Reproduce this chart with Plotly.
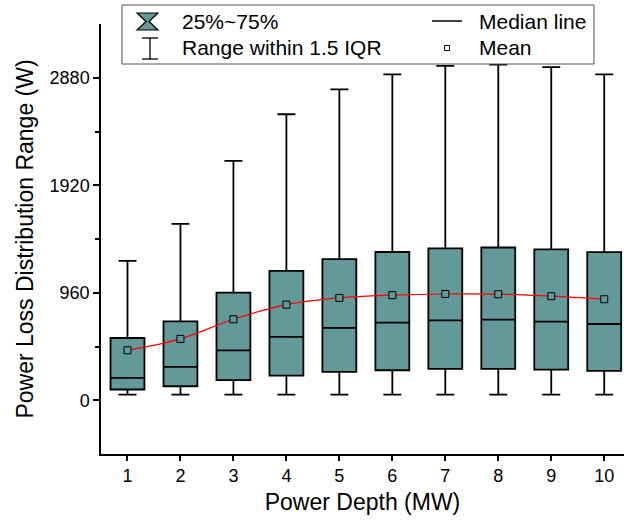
import plotly.graph_objects as go

# ---- data ----
depth = [1, 2, 3, 4, 5, 6, 7, 8, 9, 10]
q1 = [96, 125, 179, 220, 253, 268, 280, 280, 274, 262]
median = [199, 298, 446, 566, 646, 694, 714, 720, 703, 681]
q3 = [556, 705, 962, 1155, 1260, 1324, 1357, 1364, 1348, 1322]
lower_fence = [51, 51, 51, 51, 51, 51, 51, 51, 51, 51]
upper_fence = [1244, 1575, 2137, 2554, 2777, 2911, 2986, 2998, 2974, 2911]
mean = [446, 548, 723, 854, 914, 938, 949, 947, 929, 902]
y_ticks = [0, 960, 1920, 2880]

TEAL = "#639998"
FONT = "Liberation Sans, Arial, sans-serif"

W, H = 624, 520
ML, MR, MT, MB = 101, 0, 24, 66
PW, PH = W - ML - MR, H - MT - MB


def px(x):
    return (x - ML) / PW


def py(y):
    return (H - MB - y) / PH


fig = go.Figure()
fig.add_trace(go.Box(
    x=depth, q1=q1, median=median, q3=q3,
    lowerfence=lower_fence, upperfence=upper_fence,
    width=0.64, whiskerwidth=0.53,
    fillcolor=TEAL, line=dict(color="black", width=1.8),
    boxpoints=False, showlegend=False, hoverinfo="skip",
))
fig.add_trace(go.Scatter(
    x=depth, y=mean, mode="lines+markers",
    line=dict(color="red", width=1.2, shape="spline"),
    marker=dict(symbol="square", size=7, color=TEAL,
                line=dict(color="black", width=1)),
    showlegend=False,
))

# ---- manual legend (Origin style) ----
shapes = []
ann = []
shapes.append(dict(type="rect", xref="paper", yref="paper",
                   x0=px(122), x1=px(594), y0=py(64), y1=py(5),
                   line=dict(color="#555555", width=1), fillcolor="white"))
# hourglass icon
x0, x1, xc = 137, 158, 147.5
yt, yb, ym = 13, 30, 21.5
path = (f"M {px(x0)},{py(yt)} L {px(x1)},{py(yt)} L {px(xc+1.5)},{py(ym)} "
        f"L {px(x1)},{py(yb)} L {px(x0)},{py(yb)} L {px(xc-1.5)},{py(ym)} Z")
shapes.append(dict(type="path", xref="paper", yref="paper", path=path,
                   fillcolor=TEAL, line=dict(color="black", width=1.2)))
# whisker icon
wx = 150
shapes.append(dict(type="line", xref="paper", yref="paper",
                   x0=px(wx), x1=px(wx), y0=py(38), y1=py(59),
                   line=dict(color="black", width=1.3)))
for yy in (38, 59):
    shapes.append(dict(type="line", xref="paper", yref="paper",
                       x0=px(wx - 8), x1=px(wx + 8), y0=py(yy), y1=py(yy),
                       line=dict(color="black", width=1.3)))
# median line icon
shapes.append(dict(type="line", xref="paper", yref="paper",
                   x0=px(432), x1=px(462), y0=py(21), y1=py(21),
                   line=dict(color="black", width=1.5)))
# mean icon
shapes.append(dict(type="rect", xref="paper", yref="paper",
                   x0=px(444.5), x1=px(449.5), y0=py(50.5), y1=py(45.5),
                   fillcolor="white", line=dict(color="black", width=1)))

for txt, xx, yy in [("25%~75%", 180, 21), ("Range within 1.5 IQR", 180, 47),
                    ("Median line", 477, 21), ("Mean", 477, 47)]:
    ann.append(dict(text=txt, xref="paper", yref="paper", x=px(xx), y=py(yy),
                    xanchor="left", yanchor="middle", showarrow=False,
                    font=dict(family=FONT, size=21, color="black")))

fig.update_layout(
    width=W, height=H,
    margin=dict(l=ML, r=MR, t=MT, b=MB, autoexpand=False),
    paper_bgcolor="white", plot_bgcolor="white",
    font=dict(family=FONT, color="black"),
    shapes=shapes, annotations=ann,
)
fig.update_xaxes(
    automargin=False,
    range=[0.5, 0.5 + PW / 52.97],
    tickmode="array", tickvals=depth, ticktext=[str(d) for d in depth],
    ticks="outside", ticklen=5, tickwidth=1.5, tickcolor="black",
    showline=True, linecolor="black", linewidth=1.5,
    showgrid=False, zeroline=False,
    tickfont=dict(size=18, family=FONT),
    title=dict(text="Power Depth (MW)", font=dict(size=23, family=FONT), standoff=9),
)
fig.update_yaxes(
    automargin=False,
    range=[-480, 3360],
    tickmode="array", tickvals=y_ticks, ticktext=[str(t) for t in y_ticks],
    ticks="outside", ticklen=6, tickwidth=1.5, tickcolor="black",
    minor=dict(tickmode="array", tickvals=[480, 1440, 2400],
               ticks="outside", ticklen=4, tickwidth=1.5, tickcolor="black"),
    showline=True, linecolor="black", linewidth=1.5,
    showgrid=False, zeroline=False,
    tickfont=dict(size=18, family=FONT),
    title=dict(text="Power Loss Distribution Range (W)", font=dict(size=23, family=FONT), standoff=10),
)

fig.write_html("out.html", config={"displayModeBar": False},
               post_script="document.body.style.margin='0';")
